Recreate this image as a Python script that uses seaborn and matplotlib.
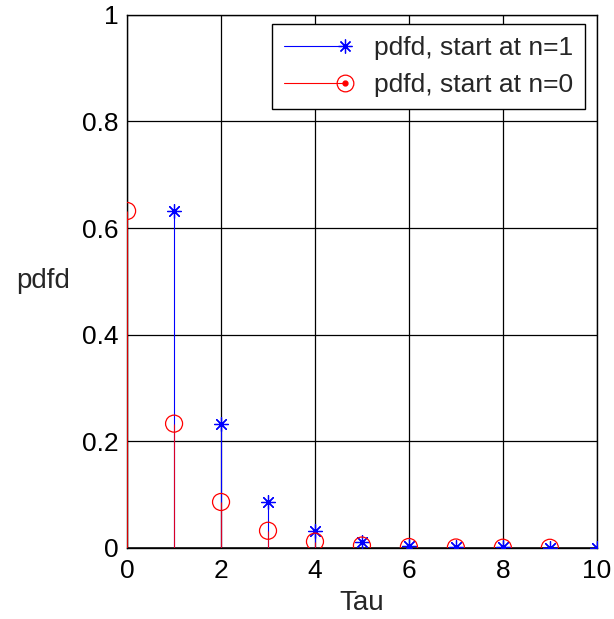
import numpy as np
import pandas as pd
import seaborn as sns
import matplotlib
matplotlib.use("Agg")
import matplotlib.pyplot as plt
from matplotlib.lines import Line2D
from matplotlib.legend_handler import HandlerLine2D, HandlerTuple

# ---- data ----
tau_n1 = [1, 2, 3, 4, 5, 6, 7, 8, 9, 10]
pdf_n1 = [0.632, 0.233, 0.086, 0.032, 0.0116, 0.0043, 0.0016, 0.0006, 0.0002, 0.0001]
tau_n0 = [0, 1, 2, 3, 4, 5, 6, 7, 8, 9]
pdf_n0 = [0.632, 0.233, 0.086, 0.032, 0.0116, 0.0043, 0.0016, 0.0006, 0.0002, 0.0001]
label_n1 = "pdfd, start at n=1"
label_n0 = "pdfd, start at n=0"
x_ticks = [0, 2, 4, 6, 8, 10]
y_ticks = [0, 0.2, 0.4, 0.6, 0.8, 1.0]
y_ticklabels = ["0", "0.2", "0.4", "0.6", "0.8", "1"]

sns.set_style("white")
plt.rcParams['font.family'] = ['Liberation Sans', 'DejaVu Sans']

df1 = pd.DataFrame({"Tau": tau_n1, "pdfd": pdf_n1})
df0 = pd.DataFrame({"Tau": tau_n0, "pdfd": pdf_n0})

fig = plt.figure(figsize=(6.14, 6.19), dpi=100)
ax = fig.add_axes([0.207, 0.115, 0.765, 0.861])

blue = "#0000ff"
red = "#ff0000"
star = (8, 2, 0)
FS = 19
LFS = 20

# stems
ax.vlines(df1["Tau"], 0, df1["pdfd"], color=blue, lw=0.8, zorder=3)
sns.scatterplot(data=df1, x="Tau", y="pdfd", marker=star, s=100, color=blue,
                edgecolor=blue, linewidth=0.9, ax=ax, legend=False, zorder=4)
ax.vlines(df0["Tau"], 0, df0["pdfd"], color=red, lw=0.8, zorder=3, alpha=0.85)
sns.scatterplot(data=df0, x="Tau", y="pdfd", marker="o", s=150, facecolor="none",
                edgecolor=red, linewidth=0.9, ax=ax, legend=False, zorder=5)

# baseline
ax.axhline(0, color="black", lw=1.8, zorder=2)

ax.set_xlim(0, 10)
ax.set_ylim(0, 1)
ax.set_xticks(x_ticks)
ax.set_yticks(y_ticks)
ax.set_yticklabels(y_ticklabels)
ax.grid(True, color="black", lw=0.9, zorder=1)
ax.set_axisbelow(True)
for s in ax.spines.values():
    s.set_visible(True)
    s.set_color("black")
    s.set_linewidth(1.0)
ax.tick_params(axis="both", labelsize=FS, direction="in", length=0, colors="black")
ax.tick_params(axis="x", pad=8)
ax.tick_params(axis="y", pad=6)
ax.set_xlabel("Tau", fontsize=LFS)
ax.set_ylabel("pdfd", fontsize=LFS, rotation=0, va="center", ha="center")
ax.xaxis.set_label_coords(0.5, -0.103)
ax.xaxis.label.set_va("center")
ax.yaxis.set_label_coords(-0.179, 0.5)


class EndMarkerHandler(HandlerLine2D):
    def create_artists(self, legend, orig_handle, xdescent, ydescent, width, height,
                       fontsize, trans):
        y = (height - ydescent) / 2
        line = Line2D([-xdescent, -xdescent + width], [y, y])
        self.update_prop(line, orig_handle, legend)
        line.set_marker("None")
        mk = Line2D([-xdescent + width], [y])
        self.update_prop(mk, orig_handle, legend)
        mk.set_linestyle("None")
        line.set_transform(trans)
        mk.set_transform(trans)
        return [line, mk]


h1 = Line2D([], [], color=blue, lw=0.8, marker=star, markersize=10,
            markeredgecolor=blue, markeredgewidth=0.9)
h0a = Line2D([], [], color=red, lw=0.8, marker="o", markersize=12,
             markerfacecolor="none", markeredgecolor=red, markeredgewidth=0.9)
h0b = Line2D([], [], color=red, lw=0, marker="o", markersize=3.5,
             markerfacecolor=red, markeredgecolor=red)
leg = ax.legend([h1, (h0a, h0b)], [label_n1, label_n0], loc="upper right",
                bbox_to_anchor=(0.975, 0.983), fontsize=FS, frameon=True, fancybox=False,
                edgecolor="black", framealpha=1, handlelength=2.3, handletextpad=1.1,
                borderpad=0.45, labelspacing=0.5, numpoints=1, borderaxespad=0,
                handler_map={Line2D: EndMarkerHandler(), tuple: HandlerTuple(ndivide=1, pad=0)})
leg.get_frame().set_linewidth(1.0)
leg.set_zorder(10)

fig.savefig("out.png", dpi=100, facecolor="white")
